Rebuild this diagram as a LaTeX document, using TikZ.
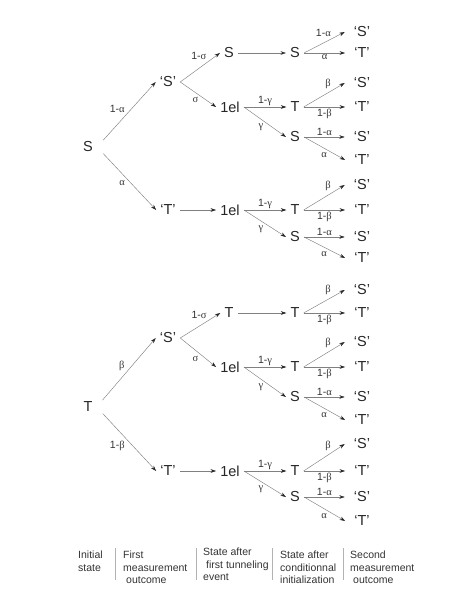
\documentclass[tikz,border=0pt]{standalone}
\usepackage{fontspec}
\setmainfont{Liberation Sans}
\newfontfamily\greekfont{Liberation Serif}
\newcommand{\gra}{{\greekfont α}}
\newcommand{\grb}{{\greekfont β}}
\newcommand{\grs}{{\greekfont σ}}
\newcommand{\grg}{{\greekfont γ}}
\usetikzlibrary{arrows.meta}
\tikzset{
>={Stealth[length=5.5pt,width=3.6pt,black!85]}, % small dark arrow heads
branch/.style={->, draw=black!50, line width=0.45pt}, % grey branch lines
st/.style={font=\fontsize{14.5}{16}\selectfont, inner sep=4pt, text=black!85}, % states in the tree
fin/.style={st, inner xsep=9pt}, % second measurement outcome
prob/.style={font=\fontsize{10.5}{11}\selectfont, inner sep=1.5pt, text=black!80}, % branch probabilities
colhead/.style={anchor=north west, align=left, inner sep=0pt, font=\fontsize{10.5}{12.4}\selectfont, text=black!80}, % column titles
}

\begin{document}
\begin{tikzpicture}[x=1pt, y=-1pt]
  \useasboundingbox (0,0) rectangle (471,609);

  % first tree, starting in S
  \node[st] (s0) at (88,147) {S};
  \node[st] (s1) at (168,82) {`S'};
  \node[st] (s2) at (168,210) {`T'};
  \node[st] (s11) at (229,53) {S};
  \node[st] (s12) at (230,107) {1el};
  \node[st] (s21) at (230,210) {1el};
  \node[st] (s111) at (295,53) {S};
  \node[st] (s121) at (295,107) {T};
  \node[st] (s122) at (295,137) {S};
  \node[st] (s211) at (295,210) {T};
  \node[st] (s212) at (295,237) {S};
  \node[fin] (sf1) at (362,32) {`S'};
  \node[fin] (sf2) at (362,53) {`T'};
  \node[fin] (sf3) at (362,83) {`S'};
  \node[fin] (sf4) at (362,107) {`T'};
  \node[fin] (sf5) at (362,137) {`S'};
  \node[fin] (sf6) at (362,160) {`T'};
  \node[fin] (sf7) at (362,185) {`S'};
  \node[fin] (sf8) at (362,210) {`T'};
  \node[fin] (sf9) at (362,237) {`S'};
  \node[fin] (sf10) at (362,258) {`T'};

  \draw[branch, shorten <=9pt] (s0.east) -- node[prob, above left] {1-\gra} (s1.west);
  \draw[branch, shorten <=9pt] (s0.east) -- node[prob, below left] {\gra} (s2.west);
  \draw[branch] (s1.east) -- node[prob, above left, pos=0.7] {1-\grs} (s11.west);
  \draw[branch] (s1.east) -- node[prob, below left, pos=0.55] {\grs} (s12.west);
  \draw[branch] (s2.east) -- (s21.west);
  \draw[branch] (s11.east) -- (s111.west);
  \draw[branch] (s12.east) -- node[prob, above] {1-\grg} (s121.west);
  \draw[branch] (s12.east) -- node[prob, below left] {\grg} (s122.west);
  \draw[branch] (s21.east) -- node[prob, above] {1-\grg} (s211.west);
  \draw[branch] (s21.east) -- node[prob, below left] {\grg} (s212.west);
  \draw[branch] (s111.east) -- node[prob, above left, pos=0.7] {1-\gra} (sf1.west);
  \draw[branch] (s111.east) -- node[prob, below] {\gra} (sf2.west);
  \draw[branch] (s121.east) -- node[prob, above left, pos=0.7] {\grb} (sf3.west);
  \draw[branch] (s121.east) -- node[prob, below] {1-\grb} (sf4.west);
  \draw[branch] (s122.east) -- node[prob, above] {1-\gra} (sf5.west);
  \draw[branch] (s122.east) -- node[prob, below left, pos=0.6] {\gra} (sf6.west);
  \draw[branch] (s211.east) -- node[prob, above left, pos=0.7] {\grb} (sf7.west);
  \draw[branch] (s211.east) -- node[prob, below] {1-\grb} (sf8.west);
  \draw[branch] (s212.east) -- node[prob, above] {1-\gra} (sf9.west);
  \draw[branch] (s212.east) -- node[prob, below left, pos=0.6] {\gra} (sf10.west);

  % second tree, starting in T
  \node[st] (t0) at (88,407) {T};
  \node[st] (t1) at (168,338) {`S'};
  \node[st] (t2) at (168,471) {`T'};
  \node[st] (t11) at (229,313) {T};
  \node[st] (t12) at (230,367) {1el};
  \node[st] (t21) at (230,471) {1el};
  \node[st] (t111) at (295,313) {T};
  \node[st] (t121) at (295,367) {T};
  \node[st] (t122) at (295,397) {S};
  \node[st] (t211) at (295,471) {T};
  \node[st] (t212) at (295,497) {S};
  \node[fin] (tf1) at (362,290) {`S'};
  \node[fin] (tf2) at (362,313) {`T'};
  \node[fin] (tf3) at (362,342) {`S'};
  \node[fin] (tf4) at (362,367) {`T'};
  \node[fin] (tf5) at (362,397) {`S'};
  \node[fin] (tf6) at (362,420) {`T'};
  \node[fin] (tf7) at (362,444) {`S'};
  \node[fin] (tf8) at (362,471) {`T'};
  \node[fin] (tf9) at (362,497) {`S'};
  \node[fin] (tf10) at (362,521) {`T'};

  \draw[branch, shorten <=9pt] (t0.east) -- node[prob, above left] {\grb} (t1.west);
  \draw[branch, shorten <=9pt] (t0.east) -- node[prob, below left] {1-\grb} (t2.west);
  \draw[branch] (t1.east) -- node[prob, above left, pos=0.7] {1-\grs} (t11.west);
  \draw[branch] (t1.east) -- node[prob, below left, pos=0.55] {\grs} (t12.west);
  \draw[branch] (t2.east) -- (t21.west);
  \draw[branch] (t11.east) -- (t111.west);
  \draw[branch] (t12.east) -- node[prob, above] {1-\grg} (t121.west);
  \draw[branch] (t12.east) -- node[prob, below left] {\grg} (t122.west);
  \draw[branch] (t21.east) -- node[prob, above] {1-\grg} (t211.west);
  \draw[branch] (t21.east) -- node[prob, below left] {\grg} (t212.west);
  \draw[branch] (t111.east) -- node[prob, above left, pos=0.7] {\grb} (tf1.west);
  \draw[branch] (t111.east) -- node[prob, below] {1-\grb} (tf2.west);
  \draw[branch] (t121.east) -- node[prob, above left, pos=0.7] {\grb} (tf3.west);
  \draw[branch] (t121.east) -- node[prob, below] {1-\grb} (tf4.west);
  \draw[branch] (t122.east) -- node[prob, above] {1-\gra} (tf5.west);
  \draw[branch] (t122.east) -- node[prob, below left, pos=0.6] {\gra} (tf6.west);
  \draw[branch] (t211.east) -- node[prob, above left, pos=0.7] {\grb} (tf7.west);
  \draw[branch] (t211.east) -- node[prob, below] {1-\grb} (tf8.west);
  \draw[branch] (t212.east) -- node[prob, above] {1-\gra} (tf9.west);
  \draw[branch] (t212.east) -- node[prob, below left, pos=0.6] {\gra} (tf10.west);

  % column titles
  \node[colhead] (h1) at (78,551) {Initial\\state};
  \node[colhead] (h2) at (123,551) {First\\measurement\\\hspace{3pt}outcome};
  \node[colhead] (h3) at (203,548) {State after\\\hspace{3pt}first tunneling\\event};
  \node[colhead] (h4) at (280,551) {State after\\conditionnal\\initialization};
  \node[colhead] (h5) at (350,551) {Second\\measurement\\\hspace{3pt}outcome};
  \foreach \x in {115,196,272,343}
    \draw[black!30, line width=0.6pt] (\x,548) -- (\x,580);
\end{tikzpicture}
\end{document}
